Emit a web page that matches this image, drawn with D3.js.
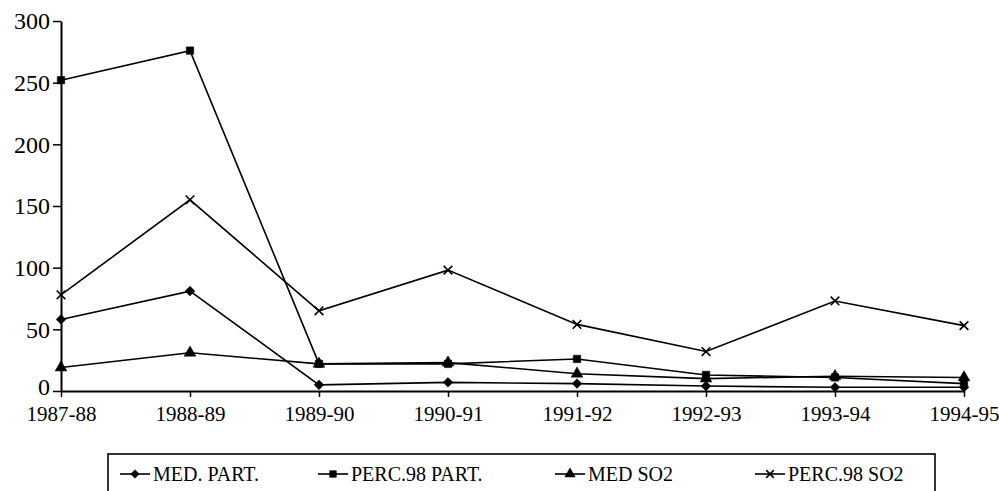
<!DOCTYPE html>
<html>
<head>
<meta charset="utf-8">
<script src="https://cdn.jsdelivr.net/npm/d3@7/dist/d3.min.js"></script>
<style>
  html, body { margin: 0; padding: 0; background: #fff; }
  svg { display: block; }
</style>
</head>
<body>
<svg id="chart" width="999" height="491"></svg>
<script>
// ---- data ----
const categories = ["1987-88", "1988-89", "1989-90", "1990-91", "1991-92", "1992-93", "1993-94", "1994-95"];
const medPart    = [58, 81, 5, 7, 6, 4, 3, 3];
const perc98Part = [252, 276, 22, 22, 26, 13, 11, 6];
const medSO2     = [19, 31, 22, 23, 14, 10, 12, 11];
const perc98SO2  = [78, 155, 65, 98, 54, 32, 73, 53];
const seriesNames = ["MED. PART.", "PERC.98 PART.", "MED SO2", "PERC.98 SO2"];
const yTicks = [0, 50, 100, 150, 200, 250, 300];

const FONT = "Liberation Serif";

const series = [
  { name: seriesNames[0], values: medPart,    symbol: d3.symbolDiamond2, size: 60 },
  { name: seriesNames[1], values: perc98Part, symbol: d3.symbolSquare,   size: 56 },
  { name: seriesNames[2], values: medSO2,     symbol: d3.symbolTriangle, size: 60 },
  { name: seriesNames[3], values: perc98SO2,  symbol: d3.symbolTimes,    size: 50 }
];

// ---- layout ----
const svg = d3.select("#chart");
const x0 = 61, x1 = 964, yTop = 21, yBot = 391;

const x = d3.scalePoint().domain(categories).range([x0, x1]);
const y = d3.scaleLinear().domain([0, 300]).range([yBot, yTop]);

// y axis
const yAxis = svg.append("g")
  .attr("transform", `translate(${x0},0)`)
  .call(d3.axisLeft(y).tickValues(yTicks).tickSize(8).tickPadding(3).tickSizeOuter(0));
yAxis.attr("font-family", FONT);
yAxis.select(".domain").attr("stroke", "#000").attr("stroke-width", 2);
yAxis.selectAll(".tick line").attr("stroke", "#000").attr("stroke-width", 1.5);
yAxis.selectAll("text")
  .style("font-family", FONT).style("font-size", "24px").attr("fill", "#000")
  .attr("dy", "0.32em");
yAxis.selectAll(".tick").filter(d => d === 0).select("text").attr("dy", "0.15em");

// x axis
const xAxis = svg.append("g")
  .attr("transform", `translate(0,${yBot})`)
  .call(d3.axisBottom(x).tickSize(6).tickPadding(9).tickSizeOuter(0));
xAxis.attr("font-family", FONT);
xAxis.select(".domain").attr("stroke", "#000").attr("stroke-width", 2);
xAxis.selectAll(".tick line").attr("stroke", "#000").attr("stroke-width", 1.5);
xAxis.selectAll("text")
  .style("font-family", FONT).style("font-size", "21px").attr("fill", "#000");

// lines
const line = d3.line().x((d, i) => x(categories[i])).y(d => y(d));
const plot = svg.append("g");
series.forEach(s => {
  plot.append("path")
    .datum(s.values)
    .attr("d", line)
    .attr("fill", "none")
    .attr("stroke", "#000")
    .attr("stroke-width", 1.6);
});
series.forEach(s => {
  const sym = d3.symbol().type(s.symbol).size(s.size);
  plot.append("g").selectAll("path")
    .data(s.values)
    .join("path")
    .attr("transform", (d, i) => `translate(${x(categories[i])},${y(d)})`)
    .attr("d", sym)
    .attr("fill", s.symbol === d3.symbolTimes ? "none" : "#000")
    .attr("stroke", "#000")
    .attr("stroke-width", s.symbol === d3.symbolTimes ? 1.6 : 0.5);
});

// legend
const legend = svg.append("g");
legend.append("rect")
  .attr("x", 108).attr("y", 454).attr("width", 827).attr("height", 45)
  .attr("fill", "none").attr("stroke", "#000").attr("stroke-width", 1.6);
const legendX = [120, 318, 555, 755];
const legendY = 474;
series.forEach((s, i) => {
  const g = legend.append("g").attr("transform", `translate(${legendX[i]},${legendY})`);
  g.append("line").attr("x1", 0).attr("x2", 30).attr("y1", 0).attr("y2", 0)
    .attr("stroke", "#000").attr("stroke-width", 1.6);
  g.append("path")
    .attr("transform", "translate(15,0)")
    .attr("d", d3.symbol().type(s.symbol).size(s.size * 0.8)())
    .attr("fill", s.symbol === d3.symbolTimes ? "none" : "#000")
    .attr("stroke", "#000")
    .attr("stroke-width", s.symbol === d3.symbolTimes ? 1.6 : 0.5);
  g.append("text").attr("x", 33).attr("y", 7)
    .style("font-family", FONT).style("font-size", "20px").attr("fill", "#000")
    .text(s.name);
});
</script>
</body>
</html>
